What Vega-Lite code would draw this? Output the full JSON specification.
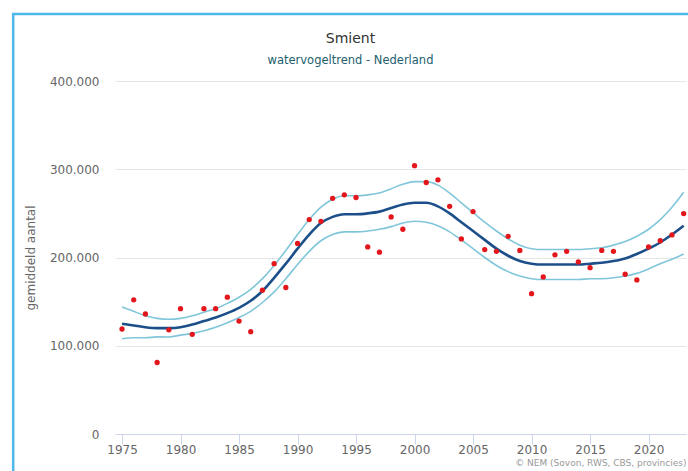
{
  "$schema": "https://vega.github.io/schema/vega-lite/v6.json",
  "autosize": "none",
  "width": 571,
  "height": 353,
  "padding": {"left": 115, "top": 81, "right": 2, "bottom": 37},
  "background": "white",
  "config": {
    "view": {"stroke": null},
    "font": "DejaVu Sans",
    "locale": {"number": {"decimal": ",", "thousands": ".", "grouping": [3], "currency": ["€", ""]}}
  },
  "title": {
    "text": "Smient",
    "subtitle": "watervogeltrend - Nederland",
    "anchor": "middle",
    "frame": "group",
    "dx": -50,
    "dy": 71,
    "offset": 17,
    "fontSize": 14,
    "fontWeight": "normal",
    "color": "#333333",
    "subtitleFontSize": 11.5,
    "subtitleColor": "#22606e",
    "subtitlePadding": 9,
    "font": "DejaVu Sans",
    "subtitleFont": "DejaVu Sans"
  },
  "data": {
    "values": [
      {"year": 1975, "count": 119000, "trend": 125000, "lower": 108000, "upper": 144000},
      {"year": 1976, "count": 152000, "trend": 123000, "lower": 109000, "upper": 139000},
      {"year": 1977, "count": 136000, "trend": 121000, "lower": 109000, "upper": 134000},
      {"year": 1978, "count": 81000, "trend": 120000, "lower": 110000, "upper": 131000},
      {"year": 1979, "count": 118000, "trend": 120000, "lower": 110000, "upper": 130000},
      {"year": 1980, "count": 142000, "trend": 121000, "lower": 112000, "upper": 131000},
      {"year": 1981, "count": 113000, "trend": 124000, "lower": 114000, "upper": 134000},
      {"year": 1982, "count": 142000, "trend": 128000, "lower": 117000, "upper": 138000},
      {"year": 1983, "count": 142000, "trend": 132000, "lower": 121000, "upper": 142000},
      {"year": 1984, "count": 155000, "trend": 137000, "lower": 126000, "upper": 148000},
      {"year": 1985, "count": 128000, "trend": 143000, "lower": 132000, "upper": 155000},
      {"year": 1986, "count": 116000, "trend": 151000, "lower": 139000, "upper": 164000},
      {"year": 1987, "count": 163000, "trend": 162000, "lower": 149000, "upper": 176000},
      {"year": 1988, "count": 193000, "trend": 177000, "lower": 161000, "upper": 191000},
      {"year": 1989, "count": 166000, "trend": 193000, "lower": 176000, "upper": 208000},
      {"year": 1990, "count": 216000, "trend": 210000, "lower": 192000, "upper": 226000},
      {"year": 1991, "count": 243000, "trend": 226000, "lower": 207000, "upper": 243000},
      {"year": 1992, "count": 241000, "trend": 239000, "lower": 219000, "upper": 257000},
      {"year": 1993, "count": 267000, "trend": 246000, "lower": 226000, "upper": 266000},
      {"year": 1994, "count": 271000, "trend": 249000, "lower": 229000, "upper": 270000},
      {"year": 1995, "count": 268000, "trend": 249000, "lower": 229000, "upper": 270000},
      {"year": 1996, "count": 212000, "trend": 250000, "lower": 230000, "upper": 271000},
      {"year": 1997, "count": 206000, "trend": 252000, "lower": 232000, "upper": 273000},
      {"year": 1998, "count": 246000, "trend": 256000, "lower": 235000, "upper": 278000},
      {"year": 1999, "count": 232000, "trend": 260000, "lower": 239000, "upper": 283000},
      {"year": 2000, "count": 304000, "trend": 262000, "lower": 241000, "upper": 286000},
      {"year": 2001, "count": 285000, "trend": 262000, "lower": 240000, "upper": 286000},
      {"year": 2002, "count": 288000, "trend": 258000, "lower": 236000, "upper": 282000},
      {"year": 2003, "count": 258000, "trend": 250000, "lower": 229000, "upper": 273000},
      {"year": 2004, "count": 221000, "trend": 240000, "lower": 220000, "upper": 262000},
      {"year": 2005, "count": 252000, "trend": 230000, "lower": 210000, "upper": 251000},
      {"year": 2006, "count": 209000, "trend": 220000, "lower": 200000, "upper": 240000},
      {"year": 2007, "count": 207000, "trend": 210000, "lower": 191000, "upper": 230000},
      {"year": 2008, "count": 224000, "trend": 202000, "lower": 184000, "upper": 221000},
      {"year": 2009, "count": 208000, "trend": 196000, "lower": 179000, "upper": 214000},
      {"year": 2010, "count": 159000, "trend": 193000, "lower": 176000, "upper": 210000},
      {"year": 2011, "count": 178000, "trend": 192000, "lower": 175000, "upper": 209000},
      {"year": 2012, "count": 203000, "trend": 192000, "lower": 175000, "upper": 209000},
      {"year": 2013, "count": 207000, "trend": 192000, "lower": 175000, "upper": 209000},
      {"year": 2014, "count": 195000, "trend": 192000, "lower": 175000, "upper": 209000},
      {"year": 2015, "count": 188500, "trend": 193000, "lower": 176000, "upper": 210000},
      {"year": 2016, "count": 208000, "trend": 194000, "lower": 176000, "upper": 211000},
      {"year": 2017, "count": 207000, "trend": 196000, "lower": 177000, "upper": 214000},
      {"year": 2018, "count": 181000, "trend": 199000, "lower": 179000, "upper": 218000},
      {"year": 2019, "count": 174600, "trend": 204000, "lower": 182000, "upper": 224000},
      {"year": 2020, "count": 212000, "trend": 210000, "lower": 187000, "upper": 232000},
      {"year": 2021, "count": 219000, "trend": 217000, "lower": 193000, "upper": 243000},
      {"year": 2022, "count": 225600, "trend": 226000, "lower": 198000, "upper": 257000},
      {"year": 2023, "count": 249800, "trend": 236000, "lower": 204000, "upper": 274000}
    ]
  },
  "layer": [
    {
      "mark": {"type": "rect", "fill": "transparent", "stroke": "#4fb8ea", "strokeWidth": 2.5, "clip": false},
      "data": {"values": [{"x1": 1965.7, "x2": 2040, "y1": 476000, "y2": -200000}]},
      "encoding": {
        "x": {"field": "x1", "type": "quantitative"},
        "x2": {"field": "x2"},
        "y": {"field": "y1", "type": "quantitative"},
        "y2": {"field": "y2"}
      }
    },
    {
      "mark": {"type": "line", "interpolate": "monotone", "color": "#80c6da", "strokeWidth": 1.6},
      "encoding": {
        "x": {
          "field": "year",
          "type": "quantitative",
          "scale": {"domain": [1974.4, 2023.2], "nice": false, "zero": false},
          "axis": {
            "values": [1975, 1980, 1985, 1990, 1995, 2000, 2005, 2010, 2015, 2020],
            "format": "d",
            "grid": false,
            "domainColor": "#ccd6eb",
            "tickColor": "#ccd6eb",
            "tickSize": 10,
            "labelPadding": 0,
            "labelFontSize": 12,
            "labelColor": "#666666",
            "labelFont": "DejaVu Sans",
            "title": "© NEM (Sovon, RWS, CBS, provincies)",
            "titleAnchor": "end",
            "titleFontSize": 9,
            "titleFontWeight": "normal",
            "titleColor": "#999999",
            "titlePadding": 3
          }
        },
        "y": {
          "field": "upper",
          "type": "quantitative",
          "scale": {"domain": [0, 400000], "nice": false},
          "axis": {
            "values": [0, 100000, 200000, 300000, 400000],
            "format": ",d",
            "domain": false,
            "ticks": false,
            "gridColor": "#e6e6e6",
            "labelPadding": 16,
            "labelFontSize": 12,
            "labelColor": "#666666",
            "title": "gemiddeld aantal",
            "titleFontSize": 12,
            "titleFontWeight": "normal",
            "titleColor": "#666666",
            "titlePadding": 12
          }
        }
      }
    },
    {
      "mark": {"type": "line", "interpolate": "monotone", "color": "#80c6da", "strokeWidth": 1.6},
      "encoding": {"x": {"field": "year", "type": "quantitative"}, "y": {"field": "lower", "type": "quantitative"}}
    },
    {
      "mark": {"type": "line", "interpolate": "monotone", "color": "#1c4f8a", "strokeWidth": 2.6},
      "encoding": {"x": {"field": "year", "type": "quantitative"}, "y": {"field": "trend", "type": "quantitative"}}
    },
    {
      "mark": {"type": "circle", "color": "#e3161b", "size": 28, "opacity": 1},
      "encoding": {"x": {"field": "year", "type": "quantitative"}, "y": {"field": "count", "type": "quantitative"}}
    }
  ]
}
